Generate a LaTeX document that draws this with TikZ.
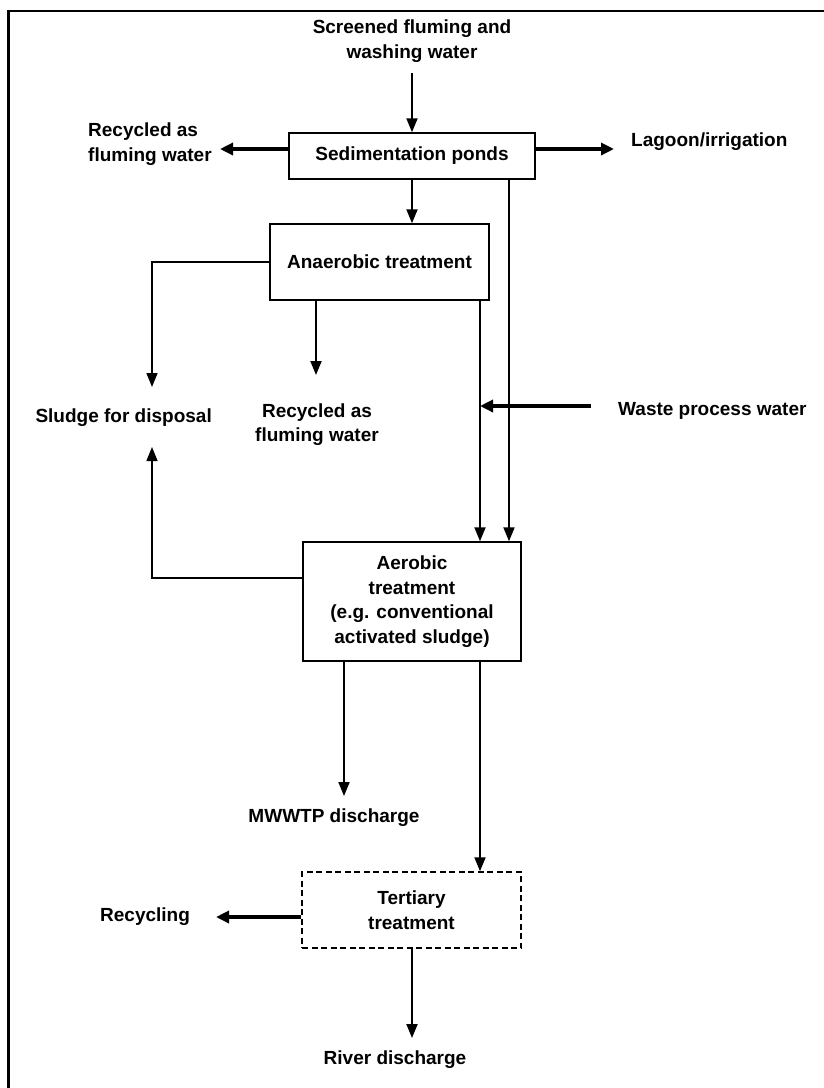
\documentclass[tikz,border=0pt]{standalone}
\usepackage{fontspec}
\setmainfont{Liberation Sans}
\usetikzlibrary{arrows.meta}
\begin{document}
\begin{tikzpicture}[x=1pt,y=-1pt,
  txt/.style={font=\bfseries\fontsize{19}{24.5}\selectfont},
  box/.style={txt, draw, line width=1.5pt, inner sep=0pt, align=center},
  lbl/.style={txt, inner sep=0pt, align=center},
  flow/.style={line width=2pt, -{Triangle[length=14pt,width=11pt]}},
  bigflow/.style={line width=3.5pt, -{Triangle[length=13pt,width=12pt]}},
  thinflow/.style={line width=1.5pt, -{Triangle[length=14pt,width=11pt]}}
]
\useasboundingbox (0,0) rectangle (823,1088);
\draw[line width=2.6pt] (8.5,1090) -- (8.5,11) -- (825,11);

% boxes
\node[box, minimum width=246pt, minimum height=46pt] (sed) at (412,156) {Sedimentation ponds};
\node[box, minimum width=219pt, minimum height=76pt] (anaer) at (379.5,262) {Anaerobic treatment};
\node[box, minimum width=218pt, minimum height=119pt] (aer) at (412,601.5) {Aerobic\\treatment\\(e.g. conventional\\activated sludge)};
\node[box, dashed, dash pattern=on 6pt off 3.5pt, minimum width=219pt, minimum height=76pt] (tert) at (411.5,910) {Tertiary\\treatment};

% labels
\node[lbl] (src) at (412,41) {Screened fluming and\\washing water};
\node[lbl, align=left, anchor=west] (rec1) at (88,144) {Recycled as\\fluming water};
\node[lbl, anchor=west] (lag) at (631,142) {Lagoon/irrigation};
\node[lbl, anchor=east] (sludge) at (212,418) {Sludge for disposal};
\node[lbl] (rec2) at (317,424.5) {Recycled as\\fluming water};
\node[lbl, anchor=west] (waste) at (618,411) {Waste process water};
\node[lbl] (mwwtp) at (334,818) {MWWTP discharge};
\node[lbl, anchor=west] (recyc) at (100,917) {Recycling};
\node[lbl] (river) at (395,1060) {River discharge};

% helper coordinates
\coordinate (x316) at (316,0);
\coordinate (x344) at (344,0);
\coordinate (x480) at (480,0);
\coordinate (x509) at (509,0);
\coordinate (e1) at (220,149);
\coordinate (e2) at (614,149);
\coordinate (sl1) at (152,387);
\coordinate (sl2) at (152,447);
\coordinate (r2) at (316,375);
\coordinate (w0) at (591,406);
\coordinate (m0) at (344,796);
\coordinate (e3) at (216,917);
\coordinate (rv) at (412,1038);
\coordinate (s0) at (412,73);

% connectors
\draw[flow] (s0) -- (sed.north);
\draw[bigflow] ([yshift=7pt]sed.west) -- (e1);
\draw[bigflow] ([yshift=7pt]sed.east) -- (e2);
\draw[flow] (sed.south) -- (sed.south |- anaer.north);
\draw[flow] (sed.south -| x509) -- (aer.north -| x509);
\draw[thinflow] (anaer.west) -| (sl1);
\draw[flow] (anaer.south -| x316) -- (r2);
\draw[flow] (anaer.south -| x480) -- (aer.north -| x480);
\draw[bigflow] (w0) -- (w0 -| x480);
\draw[thinflow] ([yshift=23.5pt]aer.west) -| (sl2);
\draw[flow] (aer.south -| x344) -- (m0);
\draw[flow] (aer.south -| x480) -- (tert.north -| x480);
\draw[bigflow] ([yshift=-7pt]tert.west) -- (e3);
\draw[flow] (tert.south -| rv) -- (rv);
\end{tikzpicture}
\end{document}
